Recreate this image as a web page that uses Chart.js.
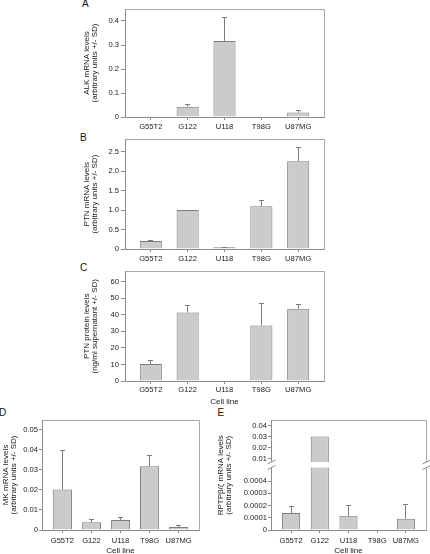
<!DOCTYPE html>
<html>
<head>
<meta charset="utf-8">
<script src="https://cdn.jsdelivr.net/npm/chart.js@4/dist/chart.umd.min.js"></script>
<style>
html, body { margin: 0; padding: 0; background: #ffffff; width: 430px; height: 554px; overflow: hidden; }
#wrap { position: relative; width: 430px; height: 554px; overflow: hidden; background: #ffffff; }
canvas { position: absolute; }
.lbl { position: absolute; font: 10px/10px "Liberation Sans", Arial, sans-serif; color: #111; }
</style>
</head>
<body>
<div id="wrap">
  <div class="lbl" style="left:82px;top:-1px">A</div>
  <div class="lbl" style="left:80px;top:132.5px">B</div>
  <div class="lbl" style="left:80px;top:262.5px">C</div>
  <div class="lbl" style="left:-1px;top:408px">D</div>
  <div class="lbl" style="left:217.5px;top:408px">E</div>
  <canvas id="cA"></canvas>
  <canvas id="cB"></canvas>
  <canvas id="cC"></canvas>
  <canvas id="cD"></canvas>
  <canvas id="cE"></canvas>
</div>
<script>
// ---------------- data ----------------
const categories = ['G55T2', 'G122', 'U118', 'T98G', 'U87MG'];
const xTitle = 'Cell line';

// A: ALK mRNA
const alkMean = [0.003, 0.043, 0.317, 0, 0.019];
const alkSD   = [0, 0.008, 0.097, 0, 0.007];
const alkTicks = [0, 0.1, 0.2, 0.3, 0.4];
const alkTickLabels = ['0', '0.1', '0.2', '0.3', '0.4'];
const alkMax = 0.45;
const alkTitle = ['ALK mRNA levels', '(arbitrary units +/- SD)'];

// B: PTN mRNA
const ptnMean = [0.205, 1.0, 0.044, 1.10, 2.256];
const ptnSD   = [0.022, 0, 0.006, 0.153, 0.36];
const ptnTicks = [0, 0.5, 1, 1.5, 2, 2.5];
const ptnTickLabels = ['0', '0.5', '1.0', '1.5', '2.0', '2.5'];
const ptnMax = 2.82;
const ptnTitle = ['PTN mRNA levels', '(arbitrary units +/- SD)'];

// C: PTN protein
const protMean = [10.3, 41.3, 0, 33.4, 43.5];
const protSD   = [2.2, 4.0, 0, 13.2, 2.4];
const protTicks = [0, 10, 20, 30, 40, 50, 60];
const protTickLabels = ['0', '10', '20', '30', '40', '50', '60'];
const protMax = 66;
const protTitle = ['PTN protein levels', '(ng/ml supernatant +/- SD)'];

// D: MK mRNA
const mkMean = [0.0201, 0.0038, 0.0050, 0.0317, 0.0015];
const mkSD   = [0.0195, 0.0016, 0.0011, 0.0055, 0.0006];
const mkTicks = [0, 0.01, 0.02, 0.03, 0.04, 0.05];
const mkTickLabels = ['0', '0.01', '0.02', '0.03', '0.04', '0.05'];
const mkMax = 0.0547;
const mkTitle = ['MK mRNA levels', '(arbitrary units +/- SD)'];

// E: RPTPβ/ζ mRNA (broken axis)
const rptpMean = [0.000138, 0.0301, 0.000116, 0, 0.000092];
const rptpSD   = [0.000054, 0, 0.000082, 0, 0.00012];
const rptpLowTicks = [0, 0.0001, 0.0002, 0.0003, 0.0004];
const rptpLowTickLabels = ['0', '0.0001', '0.0002', '0.0003', '0.0004'];
const rptpLowMax = 0.000535;
const rptpHighTicks = [0.01, 0.02, 0.03, 0.04];
const rptpHighTickLabels = ['0.01', '0.02', '0.03', '0.04'];
const rptpHighMin = 0.0047;
const rptpHighMax = 0.0447;
const rptpTitle = ['RPTP\u03B2/\u03B6 mRNA levels', '(arbitrary units +/- SD)'];

// ---------------- style ----------------
const TEXT = '#1a1a1a';
const AXIS = '#8c8c8c';
const FRAME = '#a8a8a8';
const BAR_FILL = '#cbcbcb';
const BAR_EDGE = '#7c7c7c';
const ERR = '#7c7c7c';
const TICK_SIZE = 7.6;
const TITLE_SIZE = 8;
const X_MIN = -0.7, X_MAX = 4.7;

Chart.defaults.font.family = '"Liberation Sans", Arial, Helvetica, sans-serif';
Chart.defaults.color = TEXT;

// ---------------- plugins ----------------
function align(p) { return Math.round(p - 0.5) + 0.5; }

const framePlugin = {
  id: 'frame',
  beforeDatasetsDraw(chart) {
    const { ctx, chartArea: a } = chart;
    ctx.save();
    ctx.strokeStyle = FRAME; ctx.lineWidth = 1;
    const t = align(a.top), r = align(a.right);
    ctx.beginPath();
    ctx.moveTo(align(a.left), t); ctx.lineTo(r, t); ctx.lineTo(r, align(a.bottom));
    ctx.stroke();
    ctx.restore();
  }
};

const errorPlugin = {
  id: 'errorBars',
  afterDatasetsDraw(chart, args, opts) {
    const ctx = chart.ctx;
    (opts.items || []).forEach(item => {
      const meta = chart.getDatasetMeta(item.dataset);
      const ys = chart.scales[item.scale];
      const ds = chart.data.datasets[item.dataset];
      ctx.save();
      ctx.strokeStyle = ERR; ctx.lineWidth = 1;
      meta.data.forEach((bar, i) => {
        const sd = item.sd[i];
        if (!sd) return;
        const v = ds.data[i].y;
        const x = align(bar.x);
        const y0 = ys.getPixelForValue(v);
        const y1 = align(ys.getPixelForValue(v + sd));
        ctx.beginPath();
        ctx.moveTo(x, y0); ctx.lineTo(x, y1);
        ctx.moveTo(x - 2.5, y1); ctx.lineTo(x + 2.5, y1);
        ctx.stroke();
      });
      ctx.restore();
    });
  }
};

const clipPlugin = {
  id: 'clipSeg',
  beforeDatasetDraw(chart, args, opts) {
    const seg = (opts.segs || {})[args.index];
    if (!seg) return;
    const s = chart.scales[seg.scale];
    const a = chart.chartArea;
    const ctx = chart.ctx;
    ctx.save();
    ctx.beginPath();
    const top = s.top + seg.inTop, bottom = s.bottom - seg.inBottom;
    ctx.rect(a.left - 2, top, a.right - a.left + 4, bottom - top);
    ctx.clip();
  },
  afterDatasetDraw(chart, args, opts) {
    const seg = (opts.segs || {})[args.index];
    if (seg) chart.ctx.restore();
  }
};

const breakPlugin = {
  id: 'breakMarks',
  afterDraw(chart, args, opts) {
    if (!opts.on) return;
    const { ctx, chartArea: a } = chart;
    const b = chart.scales[opts.lowScale].top;
    const g0 = b - 2.5, g1 = b + 3;
    [a.left, a.right].forEach(x0 => {
      const x = align(x0);
      ctx.save();
      ctx.fillStyle = '#ffffff';
      ctx.fillRect(x - 2, g0, 4, g1 - g0);
      ctx.strokeStyle = AXIS; ctx.lineWidth = 1;
      ctx.beginPath();
      ctx.moveTo(x - 4, g0 + 2); ctx.lineTo(x + 4, g0 - 2);
      ctx.moveTo(x - 4, g1 + 2); ctx.lineTo(x + 4, g1 - 2);
      ctx.stroke();
      ctx.restore();
    });
  }
};

// ---------------- helpers ----------------
function mount(id, g) {
  const cv = document.getElementById(id);
  cv.width = g.w; cv.height = g.h;
  cv.style.left = g.x + 'px'; cv.style.top = g.y + 'px';
  cv.style.width = g.w + 'px'; cv.style.height = g.h + 'px';
  return cv;
}

function xScale(g) {
  return {
    type: 'linear', position: 'bottom', min: X_MIN, max: X_MAX, bounds: 'data', offset: false,
    afterBuildTicks: s => { s.ticks = categories.map((c, i) => ({ value: i })); },
    afterFit: s => { s.height = g.xh; },
    ticks: {
      autoSkip: false, maxRotation: 0, minRotation: 0, padding: g.xpad,
      font: { size: TICK_SIZE }, color: TEXT,
      callback: v => categories[v]
    },
    grid: { offset: false, drawOnChartArea: false, drawTicks: true, tickLength: 3, color: AXIS, tickColor: AXIS },
    border: { display: true, color: AXIS },
    title: g.xTitle
      ? { display: true, text: xTitle, color: TEXT, font: { size: TITLE_SIZE, lineHeight: 1 }, padding: { top: 0, bottom: 0 } }
      : { display: false }
  };
}

function yScale(g, spec) {
  const s = {
    type: 'linear', position: 'left', min: spec.min, max: spec.max, bounds: 'data',
    afterBuildTicks: sc => { sc.ticks = spec.ticks.map(v => ({ value: v })); },
    afterFit: sc => { sc.width = g.yw; },
    ticks: {
      autoSkip: false, padding: g.ypad, font: { size: TICK_SIZE }, color: TEXT,
      callback: v => spec.labels[spec.ticks.indexOf(v)]
    },
    grid: { drawOnChartArea: false, drawTicks: true, tickLength: g.ytl, color: AXIS, tickColor: AXIS },
    border: { display: true, color: AXIS },
    title: spec.title
      ? { display: true, text: spec.title, color: TEXT, font: { size: TITLE_SIZE, lineHeight: 1 }, padding: { top: g.tpad, bottom: 0 } }
      : { display: false }
  };
  if (spec.stack) { s.stack = spec.stack; s.stackWeight = spec.stackWeight; }
  return s;
}

function barData(mean, axisId, pct) {
  return {
    data: mean.map((v, i) => ({ x: i, y: v })),
    yAxisID: axisId || 'y',
    backgroundColor: BAR_FILL, borderColor: BAR_EDGE, borderWidth: 1,
    barPercentage: pct, categoryPercentage: 1, grouped: false
  };
}

function simplePanel(id, g, mean, sd, spec) {
  const cv = mount(id, g);
  return new Chart(cv, {
    type: 'bar',
    data: { datasets: [barData(mean, 'y', g.bp)] },
    options: {
      responsive: false, animation: false, devicePixelRatio: 1,
      layout: { padding: { left: 0, top: g.pt, right: g.pr, bottom: 0 } },
      plugins: {
        legend: { display: false }, tooltip: { enabled: false }, title: { display: false },
        errorBars: { items: [{ dataset: 0, scale: 'y', sd: sd }] }
      },
      scales: { x: xScale(g), y: yScale(g, spec) }
    },
    plugins: [framePlugin, errorPlugin]
  });
}

// ---------------- panels ----------------
simplePanel('cA', { x: 81, y: 0, w: 247, h: 132, pt: 9, pr: 4, yw: 44, xh: 15, xpad: 2.4, ypad: 2, ytl: 4, tpad: 2, bp: 0.6, xTitle: false },
  alkMean, alkSD, { min: 0, max: alkMax, ticks: alkTicks, labels: alkTickLabels, title: alkTitle });

simplePanel('cB', { x: 81, y: 130, w: 247, h: 134, pt: 9.3, pr: 4, yw: 44, xh: 15, xpad: 2.2, ypad: 2, ytl: 4, tpad: 2, bp: 0.6, xTitle: false },
  ptnMean, ptnSD, { min: 0, max: ptnMax, ticks: ptnTicks, labels: ptnTickLabels, title: ptnTitle });

simplePanel('cC', { x: 81, y: 262, w: 247, h: 144, pt: 9.5, pr: 4, yw: 44, xh: 25, xpad: 1, ypad: 2, ytl: 4, tpad: 2, bp: 0.6, xTitle: true },
  protMean, protSD, { min: 0, max: protMax, ticks: protTicks, labels: protTickLabels, title: protTitle });

simplePanel('cD', { x: 0, y: 411, w: 202, h: 144, pt: 9, pr: 3, yw: 42, xh: 25, xpad: 3.8, ypad: 1, ytl: 3, tpad: 2, bp: 0.66, xTitle: true },
  mkMean, mkSD, { min: 0, max: mkMax, ticks: mkTicks, labels: mkTickLabels, title: mkTitle });

// Panel E with a broken y axis: two stacked y scales
(function () {
  const g = { x: 210, y: 411, w: 220, h: 144, pt: 9.5, pr: 4, yw: 38, xh: 25, xpad: 3.3, ypad: 1, ytl: 3, tpad: 0, bp: 0.63, xTitle: true };
  const cv = mount('cE', g);
  new Chart(cv, {
    type: 'bar',
    data: { datasets: [barData(rptpMean, 'y', g.bp), barData(rptpMean, 'y2', g.bp)] },
    options: {
      responsive: false, animation: false, devicePixelRatio: 1,
      layout: { padding: { left: 0, top: g.pt, right: g.pr, bottom: 0 } },
      plugins: {
        legend: { display: false }, tooltip: { enabled: false },
        title: {
          display: true, position: 'left', fullSize: false, align: 'center',
          text: rptpTitle, color: TEXT, font: { size: TITLE_SIZE, lineHeight: 1, weight: 'normal' },
          padding: { top: 7, bottom: 0 }
        },
        errorBars: { items: [{ dataset: 0, scale: 'y', sd: rptpSD }] },
        clipSeg: { segs: { 0: { scale: 'y', inTop: 3, inBottom: -2 }, 1: { scale: 'y2', inTop: -2, inBottom: 2.5 } } },
        breakMarks: { on: true, lowScale: 'y' }
      },
      scales: {
        x: xScale(g),
        y: yScale(g, { min: 0, max: rptpLowMax, ticks: rptpLowTicks, labels: rptpLowTickLabels, stack: 'e', stackWeight: 65.5 }),
        y2: yScale(g, { min: rptpHighMin, max: rptpHighMax, ticks: rptpHighTicks, labels: rptpHighTickLabels, stack: 'e', stackWeight: 44 })
      }
    },
    plugins: [framePlugin, clipPlugin, errorPlugin, breakPlugin]
  });
})();
</script>
</body>
</html>
